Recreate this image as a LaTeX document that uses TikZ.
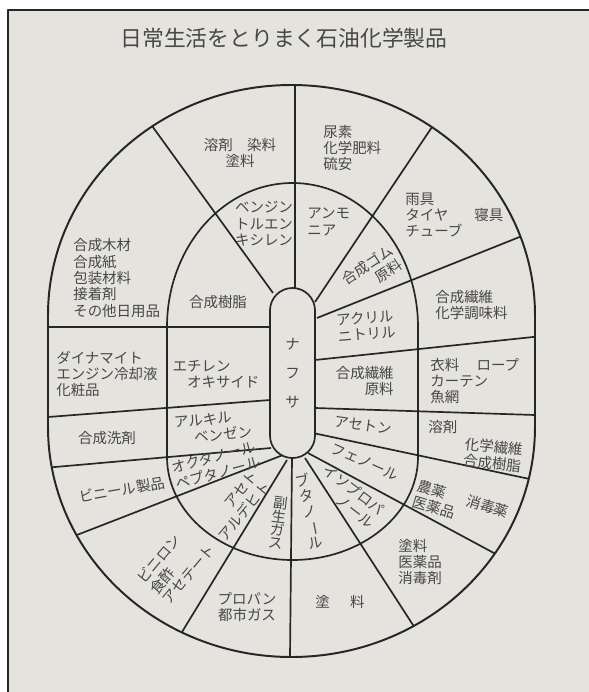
\documentclass[tikz,border=0pt]{standalone}
\usepackage{fontspec}
\setmainfont{Noto Sans CJK JP}
\usetikzlibrary{calc}

\definecolor{paper}{RGB}{229,227,222}
\definecolor{ink}{RGB}{38,38,38}

\begin{document}
\begin{tikzpicture}[
    x=0.025cm, y=0.025cm,
    line join=round,
    ring line/.style={draw=ink, line width=1.2pt},
    every node/.style={text=ink!85!white, inner sep=0pt, font=\fontsize{10.3}{11.7}\selectfont},
    cell/.style={align=center},
    cell left/.style={align=left, anchor=west},
    tate/.style={align=center, font=\fontsize{10.3}{11.3}\selectfont},
]

  % paper and frame
  \useasboundingbox (0,0) rectangle (588,-692);
  \fill[white!96!paper] (0,0) rectangle (588,-692);
  \fill[paper] (8,-10) rectangle (600,-700);
  \draw[ink, line width=1.4pt] (8,-700) -- (8,-10) -- (600,-10);

  \node[font=\fontsize{15.5}{18}\selectfont] (title) at (284,-38) {日常生活をとりまく石油化学製品};

  % dividing lines, cut at the outer oval
  \begin{scope}
    \clip (48,-315) arc[start angle=180, end angle=0, x radius=243.5, y radius=230]
      -- (535,-427) arc[start angle=0, end angle=-180, x radius=243.5, y radius=230] -- cycle;
    \foreach \inner/\outer in {{295,-288}/{295,-85}, {273,-293}/{155,-130}, {315,-302}/{430,-130},
        {317,-318}/{517,-238}, {315,-360}/{533,-337}, {315,-408}/{535,-415}, {313,-433}/{525,-478},
        {308,-453}/{492,-552}, {305,-458}/{413,-625}, {292,-458}/{290,-657}, {287,-460}/{182,-632},
        {283,-455}/{82,-533}, {271,-448}/{55,-467}, {270,-400}/{48,-417}, {270,-327}/{48,-327}}
      \draw[ring line] (\inner) -- ($(\inner)!1.15!(\outer)$);
  \end{scope}

  % outer oval and middle ring
  \draw[ring line, line width=1.4pt] (48,-315) arc[start angle=180, end angle=0, x radius=243.5, y radius=230]
    -- (535,-427) arc[start angle=0, end angle=-180, x radius=243.5, y radius=230] -- cycle;
  \draw[ring line] (167,-327) arc[start angle=180, end angle=0, x radius=125.5, y radius=144]
    -- (418,-457) arc[start angle=0, end angle=-180, x radius=125.5, y radius=103] -- cycle;

  % naphtha in the middle
  \node[draw=ink, line width=1.2pt, fill=paper, rounded corners=0.5625cm, minimum width=1.125cm,
    minimum height=4.25cm, align=center, font=\fontsize{10.3}{20.5}\selectfont] (naphtha) at (292.5,-373) {ナ\\フ\\サ};

  % outer ring
  \node[cell] (solvent) at (240,-153) {溶剤　染料\\塗料};
  \node[cell left] (urea) at (323,-148) {尿素\\化学肥料\\硫安};
  \node[cell left] (raingear) at (405,-215) {雨具\\タイヤ\hspace{1.8em}寝具\\チューブ};
  \node[cell left] (fibre) at (435,-305) {合成繊維\\化学調味料};
  \node[cell left] (clothing) at (430,-381) {衣料\hspace{1.2em}ロープ\\カーテン\\魚網};
  \node[cell left] (solventb) at (428,-427) {溶剤};
  \node[cell, align=right, rotate=-6] (resin) at (493,-455) {化学繊維\\合成樹脂};
  \node[cell, align=left, rotate=-17] (pesticide) at (461,-507) {農薬\hspace{1.5em}消毒薬\\医薬品};
  \node[cell left] (paintb) at (398,-562) {塗料\\医薬品\\消毒剤};
  \node[cell] (paint) at (340,-602) {塗\hspace{1.4em}料};
  \node[cell] (propane) at (247,-607) {プロパン\\都市ガス};
  \node[cell, align=left, rotate=50] (vinylon) at (176,-564) {ビニロン\\食酢\\アセテート};
  \node[cell, rotate=10] (vinyl) at (122,-490) {ビニール製品};
  \node[cell] (detergent) at (107,-438) {合成洗剤};
  \node[cell left] (dynamite) at (56,-374) {ダイナマイト\\エンジン冷却液\\化粧品};
  \node[cell left] (wood) at (73,-278) {合成木材\\合成紙\\包装材料\\接着剤\\その他日用品};

  % inner ring
  \node[cell] (benzine) at (264,-224) {ベンジン\\トルエン\\キシレン};
  \node[cell left] (ammonia) at (307,-222) {アンモ\\ニア};
  \node[cell, align=right, rotate=33] (rubber) at (372,-272) {合成ゴム\\原料};
  \node[cell, align=left, rotate=5] (acryl) at (366,-326) {アクリル\\ニトリル};
  \node[cell, align=right, anchor=east] (fibreraw) at (394,-381) {合成繊維\\原料};
  \node[cell, rotate=-8] (acetone) at (363,-425) {アセトン};
  \node[cell, rotate=-24] (phenol) at (365,-462) {フェノール};
  \node[cell, align=right, rotate=-37] (ipa) at (349,-496) {イソプロパ\\ノール};
  \node[tate, rotate=11] (butanol) at (309,-511) {ブ\\タ\\ノ\\\rotatebox[origin=c]{-90}{ー}\\ル};
  \node[tate, rotate=-7, font=\fontsize{10.3}{9.5}\selectfont] (byproduct) at (278,-523) {副\\生\\ガ\\ス};
  \node[cell, align=right, rotate=50] (acetald) at (238,-506) {アセト\\アルデヒト};
  \node[cell, align=left, rotate=15] (octanol) at (216,-465) {オクタノール\\ペプタノール};
  \node[cell, align=left, rotate=5] (alkyl) at (213,-427) {アルキル\\\hspace{1.3em}ベンゼン};
  \node[cell, align=left] (ethylene) at (216,-374) {エチレン\\\hspace{1em}オキサイド};
  \node[cell] (resinb) at (218,-302) {合成樹脂};

\end{tikzpicture}
\end{document}
